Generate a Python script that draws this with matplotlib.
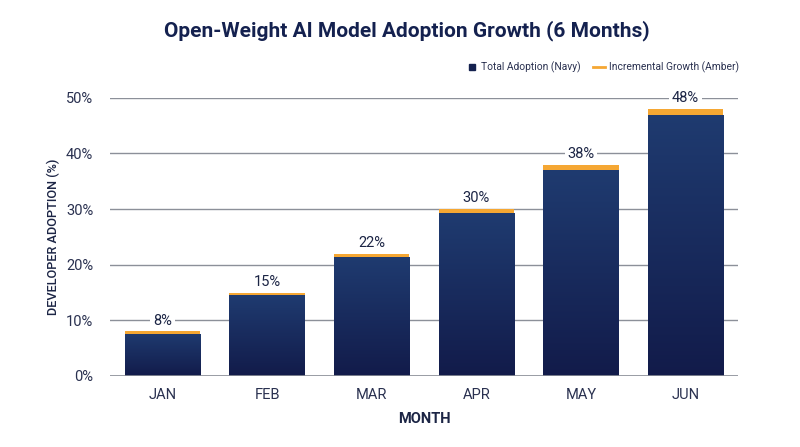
#!/usr/bin/env python3
"""Open-weight AI model adoption: stacked bars with amber growth caps."""

import matplotlib
matplotlib.use("Agg")
import matplotlib.pyplot as plt
import numpy as np
from matplotlib.colors import LinearSegmentedColormap
from matplotlib.lines import Line2D
from matplotlib.patches import Rectangle

months = ["JAN", "FEB", "MAR", "APR", "MAY", "JUN"]
total_adoption = [8, 15, 22, 30, 38, 48]
growth_cap = [0.4, 0.5, 0.6, 0.7, 0.9, 1.0]
y_ticks = [0, 10, 20, 30, 40, 50]

NAVY = "#14214f"
AMBER = "#f5a733"
TEXT = "#1c2545"
GRID = "#8c9099"

plt.rcParams["font.family"] = ["Roboto", "DejaVu Sans"]

fig = plt.figure(figsize=(8, 4.47), dpi=100)
ax = fig.add_axes([0.1375, 0.159, 0.785, 0.622])

cmap = LinearSegmentedColormap.from_list("navy", ["#121b4a", "#1f3b70"])
grad = np.linspace(0, 1, 256).reshape(-1, 1)
width = 0.72

for i, (total, cap) in enumerate(zip(total_adoption, growth_cap)):
    base = total - cap
    x0 = i - width / 2
    img = ax.imshow(grad, cmap=cmap, origin="lower", aspect="auto",
                    extent=(x0, x0 + width, 0, base), zorder=2)
    clip = Rectangle((x0, 0), width, base, transform=ax.transData)
    img.set_clip_path(clip)
    ax.bar(i, cap, width, bottom=base, color=AMBER, zorder=3, linewidth=0)
    ax.text(i, total + 0.7, f"{total}%", ha="center", va="bottom", fontsize=10.5,
            color=TEXT, zorder=4,
            bbox=dict(facecolor="white", edgecolor="none", pad=2))

ax.set_xlim(-0.5, len(months) - 0.5)
ax.set_ylim(0, 50)
ax.set_yticks(y_ticks)
ax.set_yticklabels([f"{t}%" for t in y_ticks])
ax.set_xticks(range(len(months)))
ax.set_xticklabels(months)
ax.tick_params(axis="both", length=0, labelsize=10.5, labelcolor="#2a3150")
ax.tick_params(axis="y", pad=12)
ax.tick_params(axis="x", pad=9)
ax.grid(axis="y", color=GRID, linewidth=1, zorder=1)
ax.set_axisbelow(True)
for side in ["top", "right", "left", "bottom"]:
    ax.spines[side].set_visible(False)
ax.axhline(0, color=GRID, linewidth=1.2, zorder=5)

ax.set_xlabel("MONTH", fontsize=10.5, fontweight="bold", color=TEXT, labelpad=7)
ax.set_ylabel("DEVELOPER ADOPTION (%)", fontsize=9.2, fontweight="medium", color=TEXT, labelpad=4)

fig.suptitle("Open-Weight AI Model Adoption Growth (6 Months)", x=0.508, y=0.955,
             fontsize=15, fontweight="bold", color=NAVY)

handles = [
    Line2D([], [], marker="s", linestyle="none", color=NAVY, markersize=5),
    Line2D([], [], color=AMBER, linewidth=2),
]
fig.legend(handles, ["Total Adoption (Navy)", "Incremental Growth (Amber)"],
           loc="center right", bbox_to_anchor=(0.935, 0.849), ncol=2, frameon=False,
           fontsize=7.4, handlelength=1.1, handletextpad=0.4, columnspacing=1.2,
           labelcolor="#2a3150")

fig.savefig("out.png", dpi=100)
